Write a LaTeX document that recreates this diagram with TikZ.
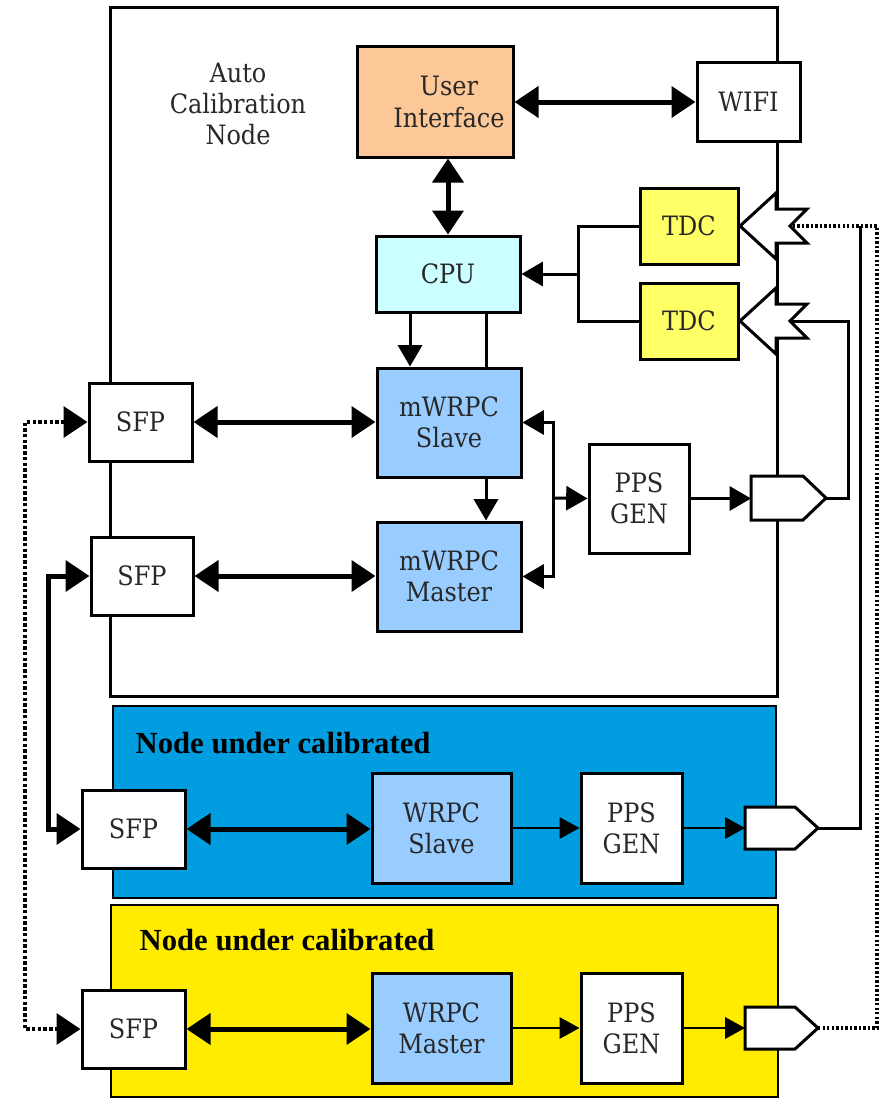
\documentclass[tikz,border=0pt]{standalone}
\usepackage{fontspec}
\setmainfont{DejaVu Serif Condensed}
\newfontfamily\headfont{Liberation Serif}
\usetikzlibrary{arrows.meta,fit,calc}
\definecolor{uiorange}{RGB}{252,200,152}
\definecolor{cpucyan}{RGB}{204,255,255}
\definecolor{tdcyellow}{RGB}{255,255,102}
\definecolor{wrpcblue}{RGB}{153,204,255}
\definecolor{nodeblue}{RGB}{0,158,224}
\definecolor{nodeyellow}{RGB}{255,236,0}
\definecolor{txt}{RGB}{40,40,40}
\newcommand{\mainsz}{\fontsize{20}{23.3}\selectfont}
\newcommand{\headsz}{\headfont\bfseries\fontsize{23}{26}\selectfont}
% \bx{name}{style}{x1}{y1}{x2}{y2}{text}
\newcommand{\bx}[7]{%
  \pgfmathsetmacro{\bxw}{(#5-#3)*0.75}%
  \pgfmathsetmacro{\bxh}{(#6-#4)*0.75}%
  \pgfmathsetmacro{\bxcx}{(#3+#5)/2}%
  \pgfmathsetmacro{\bxcy}{(#4+#6)/2}%
  \node[#2, minimum width=\bxw pt, minimum height=\bxh pt] (#1) at (\bxcx,\bxcy) {#7};}
\tikzset{
  box/.style={draw=black, line width=2.25pt, fill=white, inner sep=0pt, align=center, text=txt, font=\mainsz},
  cont/.style={draw=black, line width=2.25pt, inner sep=0pt},
  ln/.style={line width=2.25pt},
  arr/.style={line width=2.25pt, -{Triangle[length=16pt,width=18pt]}},
  arrs/.style={line width=1.8pt, -{Triangle[length=15pt,width=16pt]}},
  dbl/.style={line width=3.75pt, {Triangle[length=18pt,width=23pt]}-{Triangle[length=18pt,width=23pt]}},
  dots/.style={line width=2.4pt, dash pattern=on 1.8pt off 1.6pt},
  dotarr/.style={line width=3.4pt, dash pattern=on 2.6pt off 1.7pt, {Triangle[length=18pt,width=23pt]}-{Triangle[length=18pt,width=23pt]}},
  shp/.style={draw=black, line width=2.25pt, fill=white, line join=miter},
}
\begin{document}
\begin{tikzpicture}[x=0.75pt,y=-0.75pt]
\useasboundingbox (0,0) rectangle (889,1099);
% containers
\bx{acn}{cont}{110}{8}{777}{696}{}
\bx{nb}{cont, fill=nodeblue, line width=2pt}{113}{706}{776}{898}{}
\bx{ny}{cont, fill=nodeyellow, line width=2pt}{111}{905}{778}{1097}{}
% labels
\node[font=\mainsz, text=txt, align=center] (acl) at (238,104) {Auto\\Calibration\\Node};
\node[anchor=west, font=\headsz] (hb) at (131,743) {Node under calibrated};
\node[anchor=west, font=\headsz] (hy) at (135,940) {Node under calibrated};
% boxes
\bx{ui}{box, fill=uiorange}{357}{47}{513}{157}{\hspace*{21pt}User\\\hspace*{21pt}Interface}
\bx{wifi}{box}{697}{63}{800}{141}{WIFI}
\bx{cpu}{box, fill=cpucyan}{376}{236}{520}{312}{CPU}
\bx{tdc1}{box, fill=tdcyellow}{640}{188}{738}{264}{TDC}
\bx{tdc2}{box, fill=tdcyellow}{640}{283}{738}{359}{TDC}
\bx{slave}{box, fill=wrpcblue}{377}{368}{521}{477}{mWRPC\\Slave}
\bx{master}{box, fill=wrpcblue}{377}{522}{521}{631}{mWRPC\\Master}
\bx{pps}{box}{589}{444}{689}{553}{PPS\\GEN}
\bx{sfp1}{box}{89}{383}{192}{461}{SFP}
\bx{sfp2}{box}{91}{537}{193}{615}{SFP}
\bx{bsfp}{box}{82}{790}{185}{868}{SFP}
\bx{wslave}{box, fill=wrpcblue}{372}{773}{511}{883}{WRPC\\Slave}
\bx{bpps}{box}{581}{773}{682}{883}{PPS\\GEN}
\bx{ysfp}{box}{82}{990}{185}{1068}{SFP}
\bx{wmaster}{box, fill=wrpcblue}{372}{973}{511}{1083}{WRPC\\Master}
\bx{ypps}{box}{581}{973}{682}{1083}{PPS\\GEN}
% coordinates
\coordinate (n1) at (790,226);
\coordinate (n2) at (790,321);
\coordinate (lin) at (751,498);
\coordinate (ltip) at (826,498);
\coordinate (bin) at (745,828);
\coordinate (btip) at (818,828);
\coordinate (yin) at (745,1028);
\coordinate (ytip) at (818,1028);
\coordinate (tj) at (578,274);
\coordinate (bus) at (553,498);
\coordinate (lk) at (48,700);
\coordinate (dk) at (25,700);
\coordinate (rl) at (848,400);
\coordinate (rs) at (860,226);
\coordinate (rd) at (877,600);
% connectors
\draw[dbl] (ui.east) -- (wifi.west);
\draw[dbl] (cpu.north) -- (cpu.north |- ui.south);
\draw[ln] (tdc1.west) -| (tj) |- (tdc2.west);
\draw[arr] (tj) -- (cpu.east);
\draw[arr] ($(cpu.south)+(-38,0)$) -- ($(slave.north)+(-39,0)$);
\draw[ln] ($(cpu.south)+(38,0)$) -- ($(slave.north)+(37,0)$);
\draw[arr] ($(slave.south)+(37,0)$) -- ($(master.north)+(37,0)$);
\draw[arr] (bus) |- (slave.east);
\draw[arr] (bus) |- (master.east);
\draw[arr] (bus) -- (pps.west);
\draw[arr] (pps.east) -- (pps.east -| lin);
\draw[ln] (ltip) -| (rl) |- (n2);
\draw[dbl] (sfp1.east) -- (slave.west |- sfp1.east);
\draw[dbl] (sfp2.east) -- (master.west |- sfp2.east);
\draw[dbl] (sfp2.west) -| (lk) |- (bsfp.west);
\draw[dotarr] (sfp1.west) -| (dk) |- (ysfp.west);
\draw[dbl] (bsfp.east) -- (wslave.west |- bsfp.east);
\draw[arrs] (wslave.east |- bpps.west) -- (bpps.west);
\draw[arrs] (bpps.east) -- (bpps.east -| bin);
\draw[ln] (btip) -| (rs);
\draw[dbl] (ysfp.east) -- (wmaster.west |- ysfp.east);
\draw[arrs] (wmaster.east |- ypps.west) -- (ypps.west);
\draw[arrs] (ypps.east) -- (ypps.east -| yin);
\draw[dots] (ytip) -| (rd) |- (n1);
% hollow shapes
\draw[shp] (740,226) -- (776,193) -- (776,209) -- (807,209) -- (n1) -- (807,243) -- (776,243) -- (776,259) -- cycle;
\draw[shp] (740,321) -- (776,288) -- (776,304) -- (807,304) -- (n2) -- (807,338) -- (776,338) -- (776,354) -- cycle;
\draw[shp] (lin |- 0,476) -- (803,476) -- (ltip) -- (803,520) -- (lin |- 0,520) -- cycle;
\draw[shp] (bin |- 0,807) -- (795,807) -- (btip) -- (795,849) -- (bin |- 0,849) -- cycle;
\draw[shp] (yin |- 0,1007) -- (795,1007) -- (ytip) -- (795,1049) -- (yin |- 0,1049) -- cycle;
\end{tikzpicture}
\end{document}
